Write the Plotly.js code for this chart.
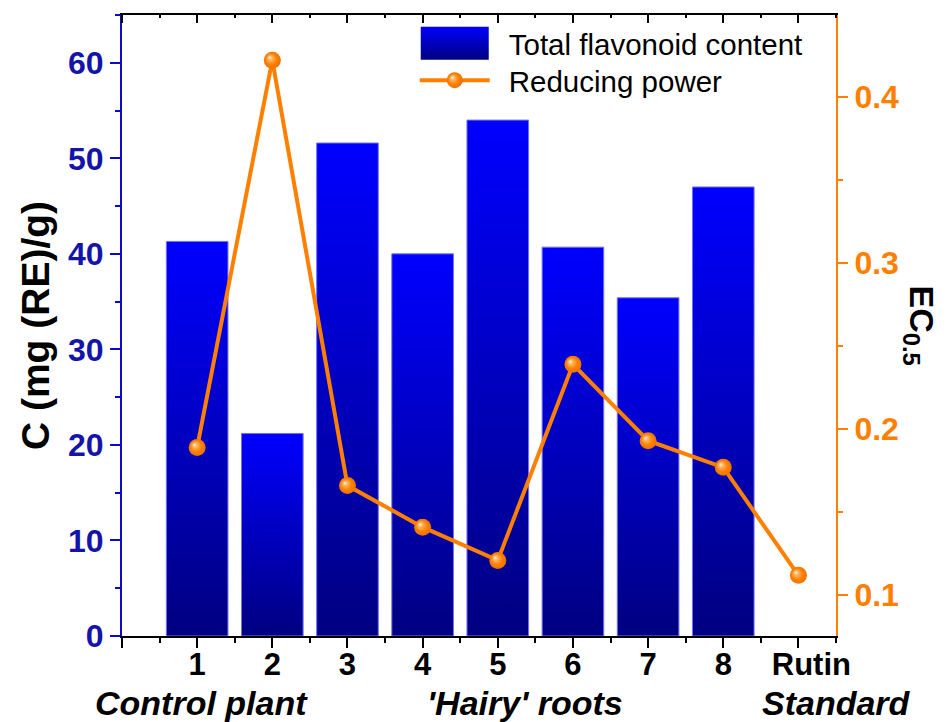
<!DOCTYPE html>
<html><head><meta charset="utf-8">
<script src="https://cdn.plot.ly/plotly-3.0.1.min.js"></script>
<style>html,body{margin:0;padding:0;background:#fff}#chart{width:952px;height:722px}</style>
</head><body>
<svg width="0" height="0" style="position:absolute">
  <defs>
    <linearGradient id="barGrad" x1="0" y1="0" x2="0" y2="1">
      <stop offset="0" stop-color="#0000FF"/>
      <stop offset="1" stop-color="#000080"/>
    </linearGradient>
    <radialGradient id="ballGrad" cx="0.5" cy="0.5" r="0.55" fx="0.33" fy="0.33">
      <stop offset="0" stop-color="#FFF4E8"/>
      <stop offset="0.22" stop-color="#FFB866"/>
      <stop offset="0.6" stop-color="#FF8000"/>
      <stop offset="1" stop-color="#E86F00"/>
    </radialGradient>
  </defs>
</svg>
<div id="chart"></div>
<script>
// ---- data ----
const categories = ['1','2','3','4','5','6','7','8','Rutin'];
const positions = [1,2,3,4,5,6,7,8,9];
const barPositions = [1,2,3,4,5,6,7,8];
const flavonoid = [41.3,21.2,51.6,40.0,54.0,40.7,35.4,47.0];
const reducingPower = [0.189,0.422,0.166,0.141,0.121,0.239,0.193,0.177,0.112];
const groupLabels = ['Control plant',"'Hairy' roots",'Standard'];
const seriesNames = ['Total flavonoid content','Reducing power'];
const tickValues = [0].concat(positions);
const tickTexts = [''].concat(categories.map(c => c === 'Rutin' ? '\u00a0\u00a0\u00a0' + c : c));

const FONT = 'Liberation Sans, Arial, sans-serif';
const BLUE_LINE = '#0A0AC8';
const BLUE_TXT = '#1414AA';
const ORANGE = '#FF8000';

const traces = [
  {type:'bar', name:seriesNames[0], x:barPositions, y:flavonoid, width:0.82,
   marker:{color:'#0000C0', line:{color:'#7070FF', width:1}}, xaxis:'x', yaxis:'y'},
  {type:'scatter', mode:'lines+markers', name:seriesNames[1], x:positions, y:reducingPower,
   line:{color:ORANGE, width:4}, marker:{color:ORANGE, size:17, line:{width:0}},
   xaxis:'x', yaxis:'y2'}
];

const layout = {
  width:952, height:722,
  margin:{l:122, r:116, t:15, b:86},
  paper_bgcolor:'#fff', plot_bgcolor:'#fff',
  font:{family:FONT, color:'#000'},
  showlegend:true,
  legend:{x:0.41, y:0.996, xanchor:'left', yanchor:'top', bgcolor:'rgba(0,0,0,0)',
    font:{size:29.5, family:FONT, color:'#000'}, itemwidth:70, tracegroupgap:0},
  xaxis:{range:[0,9.5], tickmode:'array', tickvals:tickValues, ticktext:tickTexts,
    showline:true, mirror:'ticks', linecolor:'#000', linewidth:2, ticks:'outside', ticklen:10, tickwidth:2, tickcolor:'#000',
    minor:{tickmode:'linear', tick0:0, dtick:0.5, ticks:'outside', ticklen:5, tickwidth:2, tickcolor:'#000'},
    showgrid:false, zeroline:false, ticklabelstandoff:-10,
    tickfont:{size:31, family:FONT, weight:'bold', color:'#000'}},
  yaxis:{range:[0,65], tickmode:'linear', tick0:0, dtick:10,
    showline:true, linecolor:BLUE_LINE, linewidth:2, ticks:'outside', ticklen:10, tickwidth:2, tickcolor:BLUE_LINE,
    minor:{tickmode:'linear', tick0:0, dtick:5, ticks:'outside', ticklen:5, tickwidth:2, tickcolor:BLUE_LINE},
    showgrid:false, zeroline:false,
    tickfont:{size:32, family:FONT, weight:'bold', color:BLUE_TXT},
    title:{text:'C (mg (RE)/g)', font:{size:39, family:FONT, weight:'bold', color:'#000'}, standoff:6}},
  yaxis2:{overlaying:'y', side:'right', anchor:'x', range:[0.0755,0.4492], tickmode:'linear', tick0:0, dtick:0.1,
    tickformat:'.1f',
    showline:true, linecolor:ORANGE, linewidth:2, ticks:'outside', ticklen:10, tickwidth:2, tickcolor:ORANGE,
    minor:{tickmode:'linear', tick0:0, dtick:0.05, ticks:'outside', ticklen:5, tickwidth:2, tickcolor:ORANGE},
    showgrid:false, zeroline:false,
    tickfont:{size:32, family:FONT, weight:'bold', color:ORANGE}},
  annotations:[
    {xref:'paper', yref:'paper', x:0.111, y:-0.108, xanchor:'center', yanchor:'middle', showarrow:false,
     text:groupLabels[0], font:{size:34, family:FONT, weight:'bold', style:'italic', color:'#000'}},
    {xref:'paper', yref:'paper', x:0.5646, y:-0.108, xanchor:'center', yanchor:'middle', showarrow:false,
     text:groupLabels[1], font:{size:34, family:FONT, weight:'bold', style:'italic', color:'#000'}},
    {xref:'paper', yref:'paper', x:1.0, y:-0.108, xanchor:'center', yanchor:'middle', showarrow:false,
     text:groupLabels[2], font:{size:34, family:FONT, weight:'bold', style:'italic', color:'#000'}},
    {xref:'paper', yref:'paper', x:1.1176, y:0.5, xanchor:'center', yanchor:'middle', showarrow:false, textangle:90,
     text:'EC<sub>0.5</sub>', font:{size:34, family:FONT, weight:'bold', color:'#000'}}
  ]
};

function decorate(){
  const gd = document.getElementById('chart');
  gd.querySelectorAll('.barlayer .point path').forEach(p=>{p.style.fill='url(#barGrad)';});
  gd.querySelectorAll('.scatterlayer .points path').forEach(p=>{p.style.fill='url(#ballGrad)';});
  // mirrored top ticks point into the plot, as in the reference
  gd.querySelectorAll('g.xaxislayer-above path, g.xaxislayer-below path').forEach(p=>{
    const d = p.getAttribute('d');
    if (d && d.indexOf('v-') >= 0) p.setAttribute('d', d.replace(/v-/g, 'v'));
  });
  gd.querySelectorAll('.legend [clip-path]').forEach(el=>el.removeAttribute('clip-path'));
  const items = Array.from(gd.querySelectorAll('.legend g.traces'));
  let firstY = null;
  items.forEach((g, i)=>{
    const txt = g.querySelector('text.legendtext');
    const name = txt ? txt.textContent : '';
    if (txt) {
      if (txt.dataset.ox === undefined) txt.dataset.ox = txt.getAttribute('x') || '0';
      txt.setAttribute('x', String(parseFloat(txt.dataset.ox) + 14));
    }
    if (g.dataset.oy === undefined) {
      const m = /translate\(\s*([-\d.]+)[ ,]+([-\d.]+)/.exec(g.getAttribute('transform') || '');
      g.dataset.ox = m ? m[1] : '0';
      g.dataset.oy = m ? m[2] : '0';
    }
    const oy = parseFloat(g.dataset.oy);
    if (i === 0) firstY = oy;
    const ny = (i === 0) ? oy : firstY + 37 * i;
    g.setAttribute('transform', 'translate(' + g.dataset.ox + ',' + ny + ')');
    if (name === seriesNames[0]) {
      g.querySelectorAll('.legendpoints path').forEach(p=>{
        p.setAttribute('d','M34,16.5H-34V-16.5H34Z'); p.style.fill='url(#barGrad)'; p.style.stroke='none';});
    } else {
      g.querySelectorAll('.legendpoints path').forEach(p=>{p.style.fill='url(#ballGrad)';});
    }
  });
}

Plotly.newPlot('chart', traces, layout, {displayModeBar:false, responsive:false}).then(gd=>{
  decorate();
  gd.on('plotly_afterplot', decorate);
});
</script>
</body></html>
